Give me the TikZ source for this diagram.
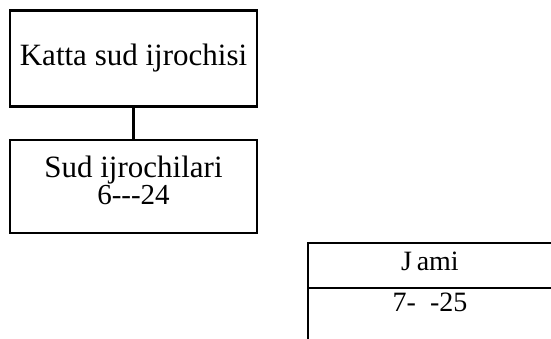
\documentclass[tikz,border=0pt]{standalone}
\usepackage{fontspec}
\setmainfont{Liberation Serif}
\usetikzlibrary{positioning}

\begin{document}
\begin{tikzpicture}[x=1pt,y=1pt,line width=2.4pt,
  box/.style={draw,minimum width=247pt,inner sep=0pt,align=center,font=\fontsize{31}{23}\selectfont},
  cell/.style={inner sep=0pt,font=\fontsize{28}{28}\selectfont}]
\useasboundingbox (0,0) rectangle (551,339);
\node[box,minimum height=96pt] (katta) at (133.5,280.5) {Katta sud ijrochisi};
\node[box,minimum height=93pt,below=31pt of katta] (sud) {Sud ijrochilari\\{\fontsize{29}{23}\selectfont 6-{}-{}-24\rule[-13pt]{0pt}{1pt}}};
\draw (katta) -- (sud);
\draw (560,96) -- (308,96) -- (308,-5);
\draw (308,51) -- (560,51);
\node[cell] (jami) at (430,78) {J\,ami};
\node[cell] (total) at (430,37) {7-~~-25};
\end{tikzpicture}
\end{document}
